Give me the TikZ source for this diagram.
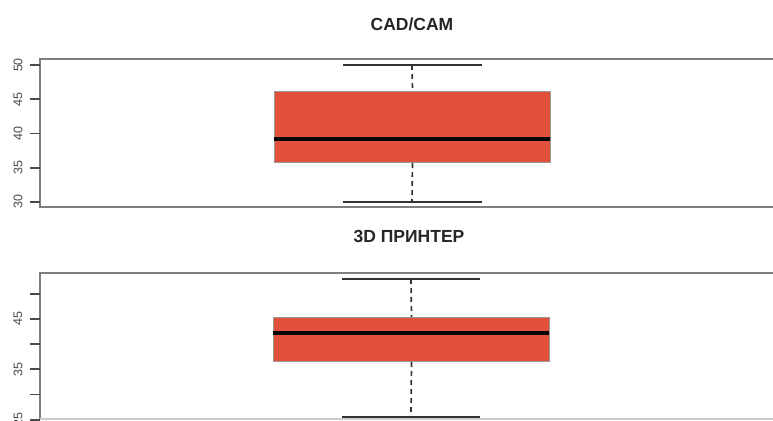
\documentclass[tikz,border=0pt]{standalone}
\usepackage{fontspec}
\setmainfont{Liberation Sans}
\definecolor{boxred}{HTML}{E0503B}
\definecolor{framegray}{HTML}{7E7E7E}
\definecolor{tickgray}{HTML}{4A4A4A}
\definecolor{whisk}{HTML}{333333}
\begin{document}
\begin{tikzpicture}[x=1pt,y=-1pt,
  frame/.style={draw=framegray,line width=2.4pt},
  tick/.style={draw=tickgray,line width=1.8pt},
  ticklab/.style={rotate=90,font=\fontsize{12.5}{12.5}\selectfont,text=tickgray,inner sep=0pt},
  title/.style={font=\bfseries\fontsize{17.5}{17.5}\selectfont,text=black!85,inner sep=0pt},
  boxfill/.style={fill=boxred,draw=black!40,line width=1pt},
  median/.style={draw=black,line width=3.8pt},
  whisker/.style={draw=whisk,line width=1.7pt},
  whiskdash/.style={draw=whisk,line width=1.7pt,dash pattern=on 5pt off 4pt}]
\useasboundingbox (0,0) rectangle (773,420);
\fill[white] (0,0) rectangle (773,420);
\begin{scope}
\clip (0,0) rectangle (773,420);
% ---------- top panel ----------
\node[title] (t1) at (412,24) {CAD/CAM};
\draw[frame] (780,59) -- (40,59) -- (40,207) -- (780,207);
\foreach \v/\yy in {50/65,45/99.2,40/133.4,35/167.6,30/201.8}{
  \draw[tick] (30,\yy) -- (40,\yy);
  \node[ticklab] (l1\v) at (18,\yy) {\v};
}
\coordinate (w1t) at (412,65);
\coordinate (w1b) at (412,202);
\node[boxfill,minimum width=276pt,minimum height=71pt,anchor=north west,inner sep=0pt] (b1) at (274,91) {};
\draw[whiskdash] (w1t) -- (b1.north);
\draw[whiskdash] (b1.south) -- (w1b);
\draw[whisker] (343,65) -- (482,65);
\draw[whisker] (343,202) -- (482,202);
\draw[median] (274,139) -- (550,139);
% ---------- bottom panel ----------
\node[title] (t2) at (409,236) {3D ПРИНТЕР};
\draw[frame] (780,273) -- (40,273) -- (40,420);
\draw[draw=black!20,line width=1.2pt] (40,419) -- (780,419);
\foreach \yy in {293.6,318.8,344,369.2,394.4,419.6}{
  \draw[tick] (30,\yy) -- (40,\yy);
}
\node[ticklab] (l245) at (18,318.8) {45};
\node[ticklab] (l235) at (18,369.2) {35};
\node[ticklab] (l225) at (18,419.6) {25};
\coordinate (w2t) at (411,279);
\coordinate (w2b) at (411,417);
\node[boxfill,minimum width=276pt,minimum height=44pt,anchor=north west,inner sep=0pt] (b2) at (273,317) {};
\draw[whiskdash] (w2t) -- (b2.north);
\draw[whiskdash] (b2.south) -- (w2b);
\draw[whisker] (342,279) -- (480,279);
\draw[whisker] (342,417) -- (480,417);
\draw[median] (273,333) -- (549,333);
\end{scope}
\end{tikzpicture}
\end{document}
